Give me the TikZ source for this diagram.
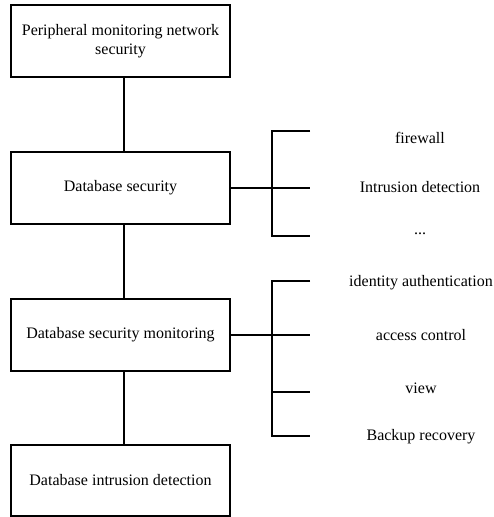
\documentclass[tikz,border=0pt]{standalone}
\usepackage{fontspec}
\setmainfont{Liberation Serif}
\begin{document}
\begin{tikzpicture}[x=1pt,y=-1pt,
  box/.style={draw,line width=1.6pt,minimum width=219pt,minimum height=72pt,inner sep=0pt,align=center,font=\fontsize{16}{19.5}\selectfont},
  lbl/.style={inner sep=0pt,font=\fontsize{16}{19.5}\selectfont},
  ln/.style={line width=1.6pt}]
\useasboundingbox (0,0) rectangle (494,517);
\node[box] (b1) at (120.5,41) {Peripheral monitoring network\\security};
\node[box] (b2) at (120.5,188) {Database security};
\node[box] (b3) at (120.5,335) {Database security monitoring};
\node[box,minimum height=71pt] (b4) at (120.5,480.5) {Database intrusion detection};
\coordinate (col) at (124,0);
\draw[ln] (b1.south -| col) -- (b2.north -| col);
\draw[ln] (b2.south -| col) -- (b3.north -| col);
\draw[ln] (b3.south -| col) -- (b4.north -| col);
% branch 1
\coordinate (j1) at (272,188);
\coordinate (t1a) at (272,131);
\coordinate (t1c) at (272,236);
\coordinate (e1a) at (310,131);
\coordinate (e1b) at (310,188);
\coordinate (e1c) at (310,236);
\draw[ln] (b2.east) -- (j1);
\draw[ln] (e1a) -- (t1a) -- (t1c) -- (e1c);
\draw[ln] (j1) -- (e1b);
\node[lbl] (l1) at (420,138) {firewall};
\node[lbl] (l2) at (420,187) {Intrusion detection};
\node[lbl] (l3) at (420,234) {...};
% branch 2
\coordinate (j2) at (272,335);
\coordinate (t2a) at (272,281);
\coordinate (t2d) at (272,436);
\coordinate (t2c) at (272,392);
\coordinate (e2a) at (310,281);
\coordinate (e2b) at (310,335);
\coordinate (e2c) at (310,392);
\coordinate (e2d) at (310,436);
\draw[ln] (b3.east) -- (j2);
\draw[ln] (e2a) -- (t2a) -- (t2d) -- (e2d);
\draw[ln] (j2) -- (e2b);
\draw[ln] (t2c) -- (e2c);
\node[lbl] (m1) at (421,283) {identity authentication};
\node[lbl] (m2) at (421,335) {access control};
\node[lbl] (m3) at (421,388) {view};
\node[lbl] (m4) at (421,437) {Backup recovery};
\end{tikzpicture}
\end{document}
